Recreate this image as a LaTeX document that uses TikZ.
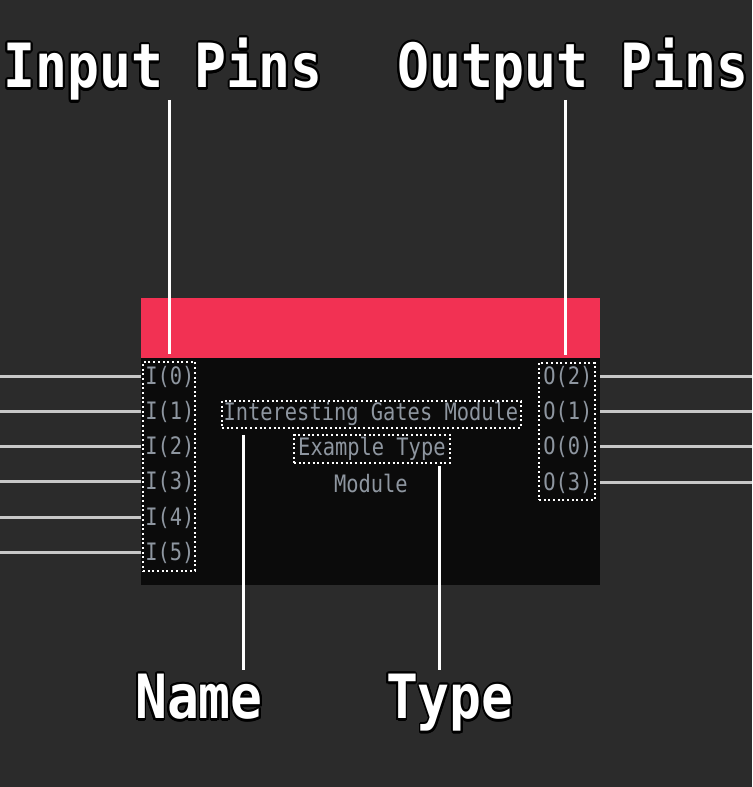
\documentclass[tikz,border=0pt]{standalone}
\usepackage{fontspec}
\usepackage{graphicx}
\usepackage{contour}
\newfontfamily\monofont{DejaVu Sans Mono}
\contourlength{2.2pt}
\contournumber{20}
\definecolor{canvas}{RGB}{43,43,43}
\definecolor{headred}{RGB}{242,49,83}
\definecolor{bodyblack}{RGB}{11,11,11}
\definecolor{pintext}{RGB}{142,150,160}
\definecolor{wiregray}{RGB}{200,200,200}
% narrow monospace for pin and module labels
\newcommand\sqz[1]{\scalebox{0.85}[1]{#1}}
% heavy outlined caption text
\newcommand\ttl[1]{\scalebox{0.87}[1]{\contour{black}{#1}}}
\tikzset{
  pin/.style={font=\monofont\fontsize{24}{26}\selectfont, text=pintext, inner sep=0pt},
  dotbox/.style={draw=white, line width=2pt, dash pattern=on 2pt off 2.7pt, inner sep=0pt},
  wire/.style={draw=wiregray, line width=3pt},
  callout/.style={draw=white, line width=3pt},
  caption/.style={font=\monofont\bfseries\fontsize{61}{61}\selectfont, text=white, inner sep=0pt, anchor=base},
}
\begin{document}
\begin{tikzpicture}[x=1pt,y=-1pt]
  \node[fill=canvas, minimum width=752pt, minimum height=787pt, inner sep=0pt, anchor=north west] (bg) at (0,0) {};
  \useasboundingbox (0,0) rectangle (752,787);

  % module block
  \node[fill=headred, minimum width=459pt, minimum height=60pt, inner sep=0pt, anchor=north west] (header) at (141,298) {};
  \node[fill=bodyblack, minimum width=459pt, minimum height=227pt, inner sep=0pt, anchor=north west] (body) at (141,358) {};

  % input pins
  \node[pin] (i0) at (170,377) {\sqz{I(0)}};
  \node[pin] (i1) at (170,412) {\sqz{I(1)}};
  \node[pin] (i2) at (170,447) {\sqz{I(2)}};
  \node[pin] (i3) at (170,482) {\sqz{I(3)}};
  \node[pin] (i4) at (170,518) {\sqz{I(4)}};
  \node[pin] (i5) at (170,553) {\sqz{I(5)}};
  \node[dotbox, minimum width=52pt, minimum height=209pt] (inbox) at (169,466.5) {};

  % output pins
  \node[pin] (o2) at (568,377) {\sqz{O(2)}};
  \node[pin] (o1) at (568,412) {\sqz{O(1)}};
  \node[pin] (o0) at (568,447) {\sqz{O(0)}};
  \node[pin] (o3) at (568,483) {\sqz{O(3)}};
  \node[dotbox, minimum width=56pt, minimum height=137pt] (outbox) at (567,431.5) {};

  % name, type and kind
  \node[pin] (nametext) at (371,414) {\sqz{Interesting Gates Module}};
  \node[dotbox, minimum width=299pt, minimum height=27pt] (namebox) at (371.5,414.5) {};
  \node[pin] (typetext) at (372,449) {\sqz{Example Type}};
  \node[dotbox, minimum width=156pt, minimum height=28pt] (typebox) at (372,449) {};
  \node[pin] (kind) at (371,484) {\sqz{Module}};

  % wires
  \foreach \p in {i0,i1,i2,i3,i4,i5}
    \draw[wire] (bg.west |- \p) -- (body.west |- \p);
  \foreach \p in {o2,o1,o0,o3}
    \draw[wire] (body.east |- \p) -- (bg.east |- \p);

  % captions
  \node[caption] (tin) at (163,88) {\ttl{Input Pins}};
  \node[caption] (tout) at (573,88) {\ttl{Output Pins}};
  \node[caption] (tname) at (199,719) {\ttl{Name}};
  \node[caption] (ttype) at (450,719) {\ttl{Type}};

  % callout lines
  \coordinate (inTop) at (170,100);
  \coordinate (outTop) at (566,100);
  \coordinate (nameTip) at (244,435);
  \coordinate (typeTip) at (440,466);
  \draw[callout] (inTop) -- ([yshift=7pt]inTop |- inbox.north);
  \draw[callout] (outTop) -- ([yshift=7pt]outTop |- outbox.north);
  \draw[callout] (nameTip) -- (nameTip |- 0,670);
  \draw[callout] (typeTip) -- (typeTip |- 0,670);
\end{tikzpicture}
\end{document}
